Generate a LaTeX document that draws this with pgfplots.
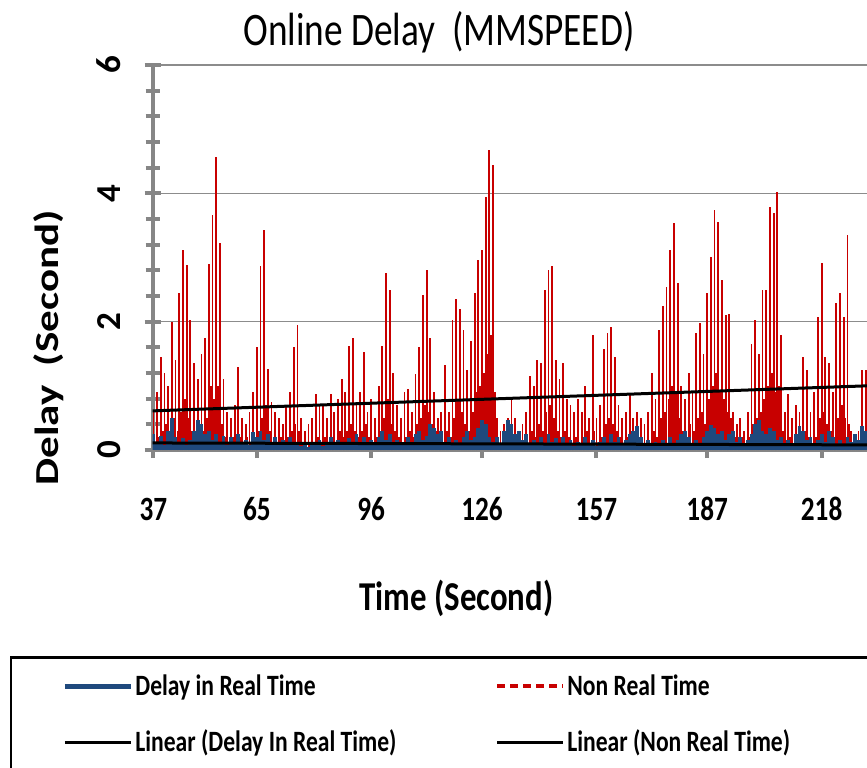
\documentclass[border=0pt]{standalone}
\usepackage{pgfplots}
\pgfplotsset{compat=1.18}
\usepackage{graphicx}
\usepackage{fontspec}
\setmainfont{Carlito}[FakeStretch=0.8]
\newfontfamily\plainfont{Carlito}
\definecolor{axgray}{RGB}{134,134,134}
\definecolor{gridgray}{RGB}{140,140,140}
\definecolor{rtblue}{RGB}{31,73,125}
\definecolor{nrtred}{RGB}{200,0,0}
\begin{document}
\begin{tikzpicture}
\useasboundingbox (0,0) rectangle (433.5pt,383.5pt);
\clip (0,0) rectangle (433.5pt,383.5pt);
\begin{axis}[
  at={(76.35pt,158.5pt)}, anchor=south west,
  scale only axis, width=357.15pt, height=192.5pt,
  xmin=36.8, xmax=230.3, ymin=0, ymax=6,
  axis lines=left,
  axis line style={-, draw=axgray, line width=2pt},
  xtick={37,65,96,126,157,187,218},
  ytick={0,2,4,6},
  minor y tick num=4,
  tick align=center,
  major tick length=8pt, minor tick length=7pt,
  tick style={draw=axgray, line width=2pt},
  ymajorgrids, major grid style={draw=gridgray, line width=0.75pt},
  /pgf/number format/assume math mode=true,
  xticklabel style={font=\bfseries\fontsize{17}{20}\selectfont, anchor=base, yshift=-31pt},
  yticklabel style={font=\plainfont\bfseries\fontsize{17.5}{20}\selectfont, anchor=center, xshift=-18pt, rotate=90},
  title={Online Delay\ \ (MMSPEED)},
  title style={at={(0.4008,1.0519)}, anchor=base, yshift=-6pt, font=\fontsize{23.3}{28}\selectfont},
  xlabel={Time (Second)},
  xlabel style={at={(0.4253,-0.4156)}, anchor=base, font=\bfseries\fontsize{20.5}{24}\selectfont},
  ylabel={\scalebox{1}[0.78]{Delay\ \ (Second)}},
  ylabel style={at={(-0.1452,0.265)}, anchor=center, font=\plainfont\bfseries\fontsize{21.5}{24}\selectfont},
  legend columns=2,
  legend cell align=left,
  legend style={at={(-0.12698,-0.5779)}, anchor=north west, draw=none, fill=none, inner sep=0pt, column sep=0pt, row sep=14.5pt, font=\bfseries\fontsize{14.75}{17}\selectfont, nodes={inner sep=1pt, text height=10.5pt, text depth=1pt}},
  legend image code/.code={\draw[#1] (0pt,0pt) -- (33pt,0pt);},
]
\addlegendimage{rtblue, line width=2.5pt}
\addlegendentry{\makebox[179pt][l]{Delay in Real Time}}
\addlegendimage{nrtred, line width=2pt, dash pattern=on 4pt off 2.5pt}
\addlegendentry{Non Real Time}
\addlegendimage{black, line width=1.5pt}
\addlegendentry{\makebox[179pt][l]{Linear (Delay In Real Time)}}
\addlegendimage{black, line width=1.5pt}
\addlegendentry{Linear (Non Real Time)}

\addplot[nrtred, ycomb, line width=0.9pt, forget plot] coordinates {
(37,0.6)(37.5,0.1)(38,0.9)(38.5,0.2)(39,1.45)(39.5,0.3)(40,1.2)(40.5,0.4)(41,1.0)(41.5,0.2)
(42,2.0)(42.5,0.5)(43,1.4)(43.5,0.3)(44,2.44)(44.5,0.6)(45,3.12)(45.5,0.8)(46,2.88)(46.5,0.5)
(47,2.02)(47.5,0.3)(48,1.35)(48.5,0.2)(49,1.1)(49.5,0.4)(50,1.5)(50.5,0.3)(51,1.75)(51.5,0.5)
(52,2.9)(52.5,1.0)(53,3.66)(53.5,0.8)(54,4.57)(54.5,1.0)(55,3.22)(55.5,0.4)(56,1.1)(56.5,0.2)
(57,0.6)(57.5,0.1)(58,0.5)(58.5,0.2)(59,0.7)(59.5,0.1)(60,1.3)(60.5,0.2)(61,0.5)(61.5,0.1)
(62,0.4)(62.5,0.2)(63,0.6)(63.5,0.1)(64,0.9)(64.5,0.2)(65,1.6)(65.5,0.3)(66,2.86)(66.5,0.5)
(67,3.43)(67.5,0.7)(68,1.27)(68.5,0.3)(69,0.75)(69.5,0.2)(70,0.6)(70.5,0.1)(71,0.5)(71.5,0.2)
(72,0.4)(72.5,0.1)(73,0.7)(73.5,0.2)(74,0.9)(74.5,0.3)(75,1.6)(75.5,0.4)(76,1.95)(76.5,0.3)
(77,0.5)(77.5,0.1)(78,0.3)(78.5,0.05)(79,0.4)(79.5,0.1)(80,0.5)(80.5,0.1)(81,0.88)(81.5,0.2)
(82,0.7)(82.5,0.1)(83,0.68)(83.5,0.2)(84,0.5)(84.5,0.1)(85,0.88)(85.5,0.2)(86,0.6)(86.5,0.1)
(87,0.8)(87.5,0.3)(88,1.1)(88.5,0.2)(89,0.9)(89.5,0.3)(90,1.62)(90.5,0.4)(91,1.74)(91.5,0.3)
(92,0.7)(92.5,0.2)(93,0.9)(93.5,0.3)(94,1.53)(94.5,0.4)(95,0.6)(95.5,0.2)(96,0.8)(96.5,0.1)
(97,0.5)(97.5,0.2)(98,1.0)(98.5,0.3)(99,1.62)(99.5,0.5)(100,2.76)(100.5,0.8)(101,2.5)(101.5,0.4)
(102,1.2)(102.5,0.3)(103,0.7)(103.5,0.2)(104,0.5)(104.5,0.1)(105,0.9)(105.5,0.2)(106,0.95)(106.5,0.3)
(107,0.6)(107.5,0.2)(108,1.18)(108.5,0.4)(109,1.6)(109.5,0.5)(110,2.41)(110.5,0.7)(111,2.8)(111.5,0.6)
(112,1.74)(112.5,0.4)(113,0.9)(113.5,0.3)(114,0.5)(114.5,0.2)(115,0.6)(115.5,0.1)(116,1.32)(116.5,0.3)
(117,0.6)(117.5,0.2)(118,2.02)(118.5,0.5)(119,2.36)(119.5,0.8)(120,2.2)(120.5,0.6)(121,1.87)(121.5,0.4)
(122,1.25)(122.5,0.3)(123,1.7)(123.5,0.6)(124,2.44)(124.5,0.9)(125,2.96)(125.5,1.0)(126,3.12)(126.5,1.2)
(127,3.95)(127.5,1.5)(128,4.67)(128.5,1.8)(129,4.44)(129.5,0.9)(130,0.5)(130.5,0.1)(131,0.3)(131.5,0.05)
(132,0.4)(132.5,0.1)(133,0.5)(133.5,0.1)(134,0.78)(134.5,0.2)(135,0.5)(135.5,0.1)(136,0.3)(136.5,0.05)
(137,0.4)(137.5,0.1)(138,0.6)(138.5,0.1)(139,1.15)(139.5,0.3)(140,1.0)(140.5,0.2)(141,1.4)(141.5,0.4)
(142,1.35)(142.5,0.3)(143,2.49)(143.5,0.6)(144,2.8)(144.5,0.7)(145,2.86)(145.5,0.5)(146,1.4)(146.5,0.3)
(147,1.1)(147.5,0.2)(148,1.35)(148.5,0.3)(149,0.8)(149.5,0.2)(150,0.7)(150.5,0.1)(151,0.6)(151.5,0.2)
(152,0.8)(152.5,0.1)(153,0.6)(153.5,0.2)(154,1.0)(154.5,0.3)(155,0.5)(155.5,0.1)(156,1.79)(156.5,0.3)
(157,0.5)(157.5,0.1)(158,0.7)(158.5,0.2)(159,1.58)(159.5,0.4)(160,1.82)(160.5,0.5)(161,1.92)(161.5,0.4)
(162,1.45)(162.5,0.3)(163,0.7)(163.5,0.2)(164,0.5)(164.5,0.1)(165,0.6)(165.5,0.2)(166,0.88)(166.5,0.3)
(167,0.5)(167.5,0.1)(168,0.6)(168.5,0.2)(169,0.5)(169.5,0.1)(170,0.4)(170.5,0.05)(171,0.6)(171.5,0.1)
(172,1.2)(172.5,0.3)(173,0.8)(173.5,0.2)(174,1.87)(174.5,0.5)(175,2.25)(175.5,0.6)(176,2.54)(176.5,0.8)
(177,3.12)(177.5,1.0)(178,3.53)(178.5,0.9)(179,2.6)(179.5,0.5)(180,1.0)(180.5,0.3)(181,0.8)(181.5,0.2)
(182,1.2)(182.5,0.4)(183,0.9)(183.5,0.3)(184,1.82)(184.5,0.5)(185,1.98)(185.5,0.6)(186,1.5)(186.5,0.4)
(187,2.44)(187.5,0.8)(188,3.01)(188.5,1.0)(189,3.74)(189.5,1.2)(190,3.56)(190.5,0.9)(191,2.65)(191.5,0.8)
(192,2.1)(192.5,0.6)(193,2.12)(193.5,0.5)(194,0.6)(194.5,0.2)(195,0.4)(195.5,0.1)(196,0.5)(196.5,0.2)
(197,0.3)(197.5,0.1)(198,0.6)(198.5,0.2)(199,1.65)(199.5,0.4)(200,2.02)(200.5,0.5)(201,1.5)(201.5,0.6)
(202,2.49)(202.5,0.8)(203,2.49)(203.5,1.0)(204,3.79)(204.5,1.2)(205,3.69)(205.5,0.9)(206,4.02)(206.5,1.0)
(207,1.8)(207.5,0.3)(208,0.6)(208.5,0.1)(209,0.88)(209.5,0.2)(210,0.5)(210.5,0.1)(211,0.7)(211.5,0.2)
(212,0.6)(212.5,0.1)(213,1.45)(213.5,0.3)(214,1.24)(214.5,0.2)(215,0.6)(215.5,0.1)(216,0.9)(216.5,0.2)
(217,2.07)(217.5,0.5)(218,2.91)(218.5,0.6)(219,1.45)(219.5,0.4)(220,1.35)(220.5,0.3)(221,0.9)(221.5,0.2)
(222,2.29)(222.5,0.5)(223,2.44)(223.5,0.7)(224,2.07)(224.5,0.5)(225,3.35)(225.5,0.4)(226,0.3)(226.5,0.05)
(227,0.2)(227.5,0.05)(228,0.3)(228.5,0.1)(229,1.25)(229.5,0.2)(230,1.25)(230.5,0.3)
};

\addplot[rtblue, ycomb, line width=1.9pt, forget plot] coordinates {
(37,0.25)(38,0.1)(39,0.22)(40,0.08)(41,0.3)(42,0.5)(43,0.2)(44,0.12)(45,0.18)(46,0.08)
(47,0.15)(48,0.3)(49,0.47)(50,0.4)(51,0.25)(52,0.3)(53,0.15)(54,0.25)(55,0.1)(56,0.22)
(57,0.08)(58,0.2)(59,0.12)(60,0.25)(61,0.1)(62,0.15)(63,0.08)(64,0.28)(65,0.2)(66,0.3)
(67,0.15)(68,0.25)(69,0.1)(70,0.2)(71,0.08)(72,0.15)(73,0.1)(74,0.2)(75,0.08)(76,0.12)
(77,0.06)(78,0.1)(79,0.05)(80,0.12)(81,0.08)(82,0.15)(83,0.06)(84,0.12)(85,0.2)(86,0.1)
(87,0.15)(88,0.08)(89,0.12)(90,0.18)(91,0.08)(92,0.25)(93,0.12)(94,0.2)(95,0.08)(96,0.15)
(97,0.1)(98,0.2)(99,0.3)(100,0.15)(101,0.25)(102,0.1)(103,0.15)(104,0.08)(105,0.12)(106,0.2)
(107,0.1)(108,0.25)(109,0.3)(110,0.15)(111,0.22)(112,0.4)(113,0.35)(114,0.25)(115,0.3)(116,0.12)
(117,0.2)(118,0.1)(119,0.15)(120,0.08)(121,0.2)(122,0.3)(123,0.15)(124,0.2)(125,0.35)(126,0.47)
(127,0.4)(128,0.2)(129,0.12)(130,0.2)(131,0.08)(132,0.3)(133,0.47)(134,0.4)(135,0.25)(136,0.3)
(137,0.15)(138,0.25)(139,0.1)(140,0.15)(141,0.08)(142,0.2)(143,0.1)(144,0.25)(145,0.12)(146,0.18)
(147,0.08)(148,0.2)(149,0.1)(150,0.15)(151,0.06)(152,0.12)(153,0.08)(154,0.2)(155,0.1)(156,0.15)
(157,0.06)(158,0.12)(159,0.2)(160,0.1)(161,0.25)(162,0.12)(163,0.2)(164,0.08)(165,0.15)(166,0.25)
(167,0.3)(168,0.37)(169,0.2)(170,0.1)(171,0.15)(172,0.06)(173,0.12)(174,0.08)(175,0.15)(176,0.1)
(177,0.2)(178,0.08)(179,0.15)(180,0.25)(181,0.3)(182,0.2)(183,0.1)(184,0.15)(185,0.08)(186,0.2)
(187,0.3)(188,0.39)(189,0.35)(190,0.25)(191,0.3)(192,0.15)(193,0.25)(194,0.3)(195,0.12)(196,0.2)
(197,0.1)(198,0.15)(199,0.25)(200,0.4)(201,0.47)(202,0.3)(203,0.25)(204,0.35)(205,0.3)(206,0.15)
(207,0.2)(208,0.08)(209,0.15)(210,0.1)(211,0.25)(212,0.37)(213,0.3)(214,0.15)(215,0.2)(216,0.08)
(217,0.15)(218,0.25)(219,0.12)(220,0.3)(221,0.2)(222,0.1)(223,0.15)(224,0.08)(225,0.2)(226,0.12)
(227,0.25)(228,0.15)(229,0.37)(230,0.3)
};

\addplot[black, line width=1.5pt, forget plot] coordinates {(36.8,0.11) (230.3,0.08)};
\addplot[black, line width=1.5pt, forget plot] coordinates {(36.8,0.61) (230.3,1.0)};
\end{axis}
\draw[black, line width=1.25pt] (5.5pt,54.75pt) rectangle (470pt,-20pt);
\end{tikzpicture}
\end{document}
